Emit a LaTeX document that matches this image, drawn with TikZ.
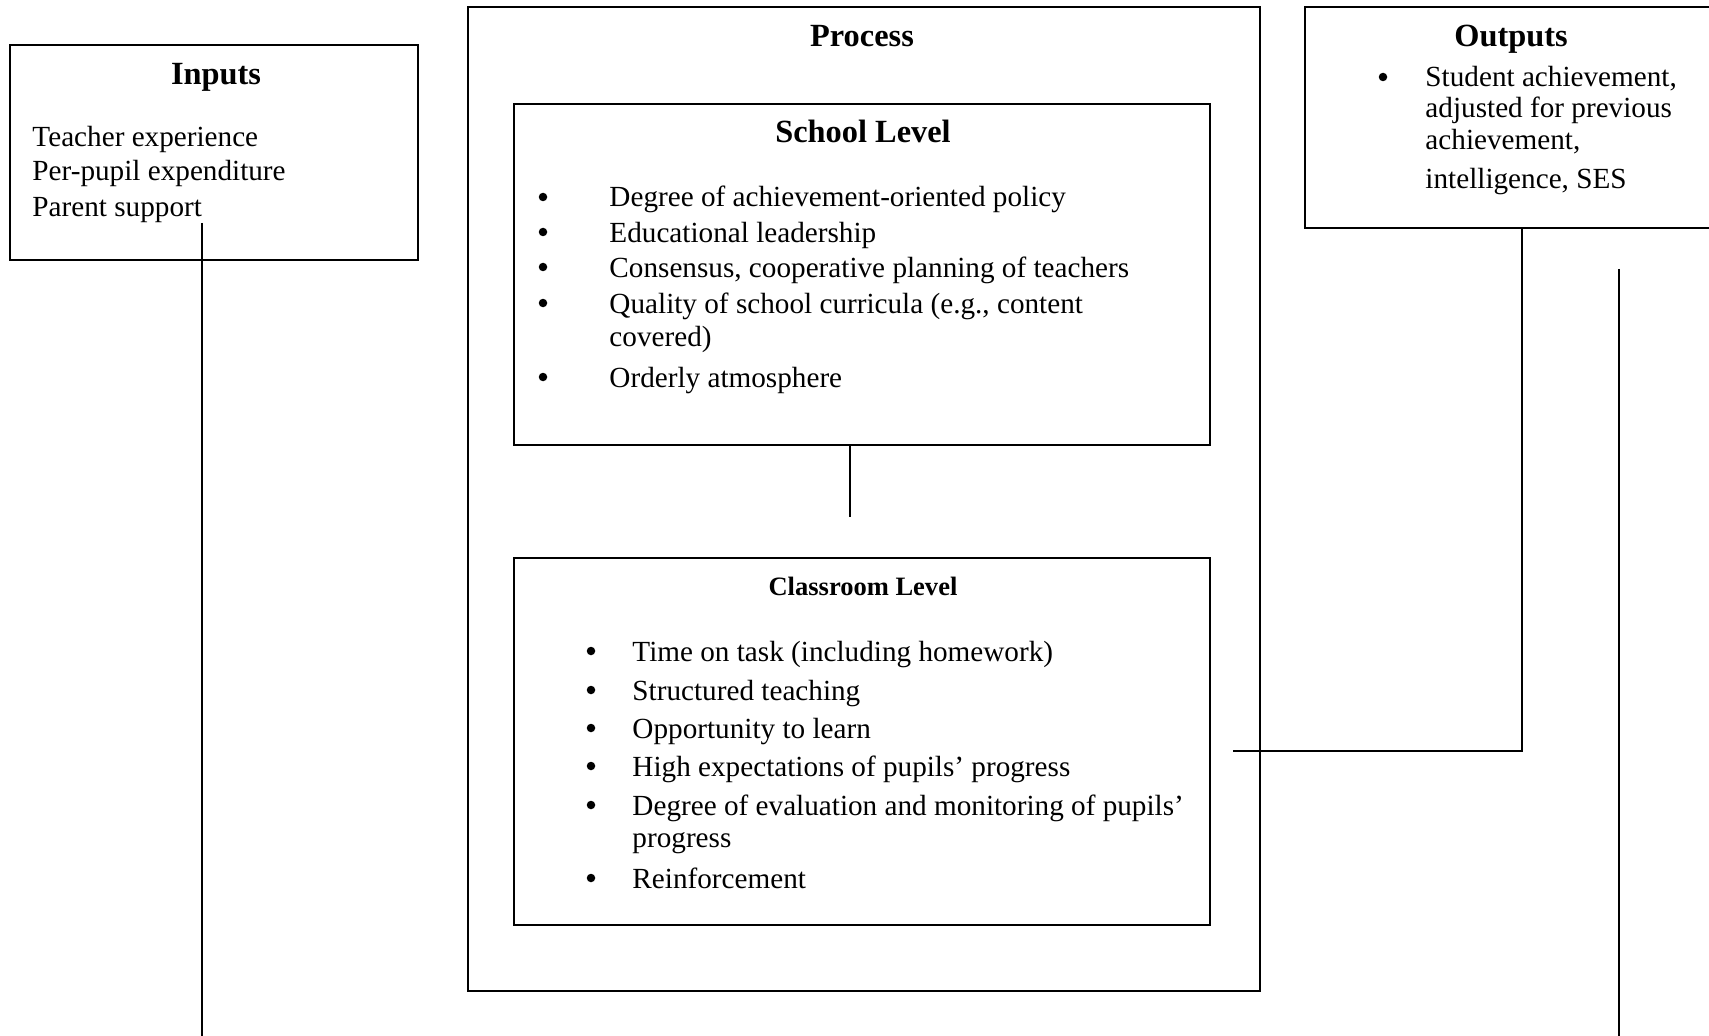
\documentclass[tikz,border=0pt]{standalone}
\usepackage{fontspec}
\setmainfont{Liberation Serif}
\usepackage{tikz}
\usetikzlibrary{positioning}

\tikzset{
  panel/.style={draw, line width=0.8pt, inner sep=0pt, outer sep=0pt},
  link/.style={line width=0.8pt},
  txt/.style={inner sep=0pt, anchor=base west, font=\fontsize{12}{14}\selectfont},
  bul/.style={circle, fill, inner sep=0pt, minimum size=8.5*0.411pt},
  head/.style={inner sep=0pt, anchor=base, font=\fontsize{13.3}{16}\selectfont\bfseries},
  subhead/.style={inner sep=0pt, anchor=base, font=\fontsize{10.9}{13}\selectfont\bfseries}
}

\begin{document}
\begin{tikzpicture}[x=0.411pt, y=-0.411pt]
  \path[use as bounding box] (0,0) rectangle (1709,1036);
  \clip (0,0) rectangle (1709,1036);

  % boxes
  \node[panel, minimum width=408*0.411pt, minimum height=215*0.411pt] (inputs) at (214,152.5) {};
  \node[panel, minimum width=792*0.411pt, minimum height=984*0.411pt] (process) at (864,499) {};
  \node[panel, minimum width=696*0.411pt, minimum height=341*0.411pt] (school) at (862,274.5) {};
  \node[panel, minimum width=696*0.411pt, minimum height=367*0.411pt] (classroom) at (862,741.5) {};
  \node[panel, minimum width=415*0.411pt, minimum height=221*0.411pt] (outputs) at (1512.5,117.5) {};

  % inputs
  \node[head] (inhead) at (216,85) {Inputs};
  \node[txt] (in1) at (32,147) {Teacher experience};
  \node[txt] (in2) at (32,181) {Per-pupil expenditure};
  \node[txt] (in3) at (32,217) {Parent support};

  % process
  \node[head] (prhead) at (862,47) {Process};
  \node[head] (schead) at (863,143) {School Level};
  \node[bul] (sb1) at (543,197) {};
  \node[txt] (sc1) at (609,207) {Degree of achievement-oriented policy};
  \node[bul] (sb2) at (543,232) {};
  \node[txt] (sc2) at (609,242) {Educational leadership};
  \node[bul] (sb3) at (543,267) {};
  \node[txt] (sc3) at (609,277) {Consensus, cooperative planning of teachers};
  \node[bul] (sb4) at (543,303) {};
  \node[txt] (sc4) at (609,313) {Quality of school curricula (e.g., content};
  \node[txt] (sc4b) at (609,347) {covered)};
  \node[bul] (sb5) at (543,377) {};
  \node[txt] (sc5) at (609,387) {Orderly atmosphere};

  \node[subhead] (clhead) at (863,595) {Classroom Level};
  \node[bul] (cb1) at (591,651) {};
  \node[txt] (cl1) at (632,661) {Time on task (including homework)};
  \node[bul] (cb2) at (591,690) {};
  \node[txt] (cl2) at (632,700) {Structured teaching};
  \node[bul] (cb3) at (591,728) {};
  \node[txt] (cl3) at (632,738) {Opportunity to learn};
  \node[bul] (cb4) at (591,766) {};
  \node[txt] (cl4) at (632,776) {High expectations of pupils’ progress};
  \node[bul] (cb5) at (591,805) {};
  \node[txt] (cl5) at (632,815) {Degree of evaluation and monitoring of pupils’};
  \node[txt] (cl5b) at (632,847) {progress};
  \node[bul] (cb6) at (591,878) {};
  \node[txt] (cl6) at (632,888) {Reinforcement};

  % outputs
  \node[head] (outhead) at (1511,47) {Outputs};
  \node[bul] (ob1) at (1383,77) {};
  \node[txt] (out1) at (1425,87) {Student achievement,};
  \node[txt] (out2) at (1425,118) {adjusted for previous};
  \node[txt] (out3) at (1425,150) {achievement,};
  \node[txt] (out4) at (1425,189) {intelligence, SES};

  % connectors
  \coordinate (inTop) at (202,223);
  \coordinate (inEnd) at (202,1036);
  \draw[link] (inTop) -- (inEnd);

  \coordinate (stub) at (850,517);
  \draw[link] (stub |- school.south) -- (stub);

  \coordinate (clEnd) at (1233,751);
  \coordinate (outBend) at (1522,751);
  \draw[link] (clEnd) -- (outBend) -- (outBend |- outputs.south);

  \coordinate (rTop) at (1619,269);
  \coordinate (rEnd) at (1619,1036);
  \draw[link] (rTop) -- (rEnd);
\end{tikzpicture}
\end{document}
